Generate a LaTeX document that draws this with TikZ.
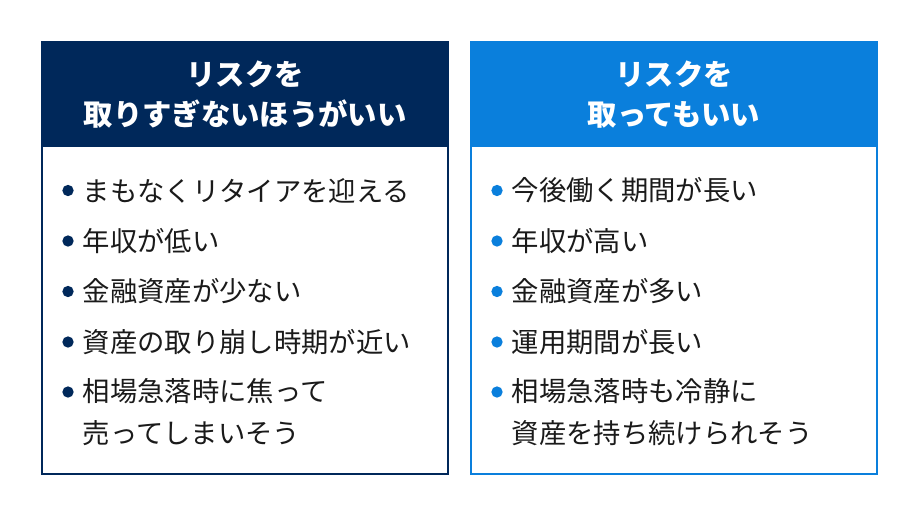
\documentclass[tikz,border=0pt]{standalone}
\usepackage{fontspec}
\newfontfamily\jpfont{Noto Sans CJK JP}
\definecolor{navy}{HTML}{00285A}
\definecolor{sky}{HTML}{0A7FDC}
\definecolor{ink}{HTML}{1A1A1A}
\tikzset{
  head/.style={font=\jpfont\bfseries\fontsize{22}{30}\selectfont, text=white, align=center},
  item/.style={font=\jpfont\fontsize{20.5}{31}\selectfont, text=ink, anchor=west, align=left},
  dot/.style={circle, inner sep=0pt, minimum size=8.5pt}
}
\begin{document}
\begin{tikzpicture}[x=0.75pt,y=-0.75pt]
  \useasboundingbox (0,0) rectangle (920,518);
  % left box
  \draw[navy, line width=1.5pt] (42,42) rectangle (448,474);
  \fill[navy] (42,42) rectangle (448,147);
  \node[head] (lhead) at (245,95) {リスクを\\取りすぎないほうがいい};
  % right box
  \draw[sky, line width=1.5pt] (471,42) rectangle (877,474);
  \fill[sky] (471,42) rectangle (877,147);
  \node[head] (rhead) at (674,95) {リスクを\\取ってもいい};

  \foreach \t [count=\i] in {まもなくリタイアを迎える, 年収が低い, 金融資産が少ない, 資産の取り崩し時期が近い} {
    \node[dot, fill=navy] (ld\i) at (68,140+50.5*\i) {};
    \node[item] (lt\i) at (78,140+50.5*\i) {\t};
  }
  \node[dot, fill=navy] (ld5) at (68,392) {};
  \node[item, anchor=north west] (lt5) at (78,374) {相場急落時に焦って\\売ってしまいそう};

  \foreach \t [count=\i] in {今後働く期間が長い, 年収が高い, 金融資産が多い, 運用期間が長い} {
    \node[dot, fill=sky] (rd\i) at (497,140+50.5*\i) {};
    \node[item] (rt\i) at (507,140+50.5*\i) {\t};
  }
  \node[dot, fill=sky] (rd5) at (497,392) {};
  \node[item, anchor=north west] (rt5) at (507,374) {相場急落時も冷静に\\資産を持ち続けられそう};
\end{tikzpicture}
\end{document}
